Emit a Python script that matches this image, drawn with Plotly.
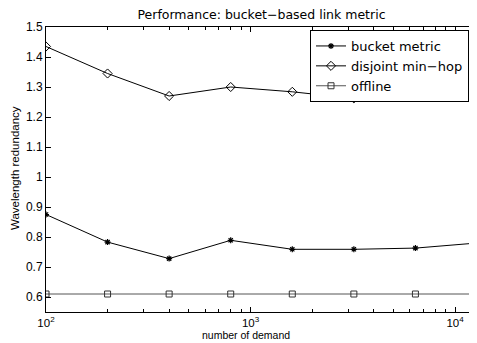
import plotly.graph_objects as go

demand = [100, 200, 400, 800, 1600, 3200, 6400, 12800]
bucket_metric = [0.875, 0.783, 0.728, 0.789, 0.759, 0.759, 0.763, 0.780]
disjoint_min_hop = [1.435, 1.345, 1.270, 1.300, 1.284, 1.262, 1.276, 1.273]
offline = [0.61, 0.61, 0.61, 0.61, 0.61, 0.61, 0.61, 0.61]

y_ticks = [0.6, 0.7, 0.8, 0.9, 1.0, 1.1, 1.2, 1.3, 1.4, 1.5]
y_ticktext = ["0.6", "0.7", "0.8", "0.9", "1", "1.1", "1.2", "1.3", "1.4", "1.5"]
x_ticks = [100, 1000, 10000]
x_ticktext = ["10<sup>2</sup>", "10<sup>3</sup>", "10<sup>4</sup>"]
x_minor = [200, 300, 400, 500, 600, 700, 800, 900,
           2000, 3000, 4000, 5000, 6000, 7000, 8000, 9000]

FONT = "Liberation Sans, Arial, Helvetica, sans-serif"
WIDE = "DejaVu Sans, Liberation Sans, sans-serif"

# The page body has an 8px margin, so the figure is laid out relative to that.
W, H = 469, 335
ML, MR, MT, MB = 38, 0, 19, 31
PW, PH = W - ML - MR, H - MT - MB

fig = go.Figure()
fig.add_trace(go.Scatter(
    x=demand, y=bucket_metric, name="bucket metric", mode="lines+markers",
    line=dict(color="black", width=1),
    marker=dict(symbol="asterisk-open", size=5, color="black", line=dict(width=1.2, color="black")),
))
fig.add_trace(go.Scatter(
    x=demand, y=disjoint_min_hop, name="disjoint min\u2212hop", mode="lines+markers",
    line=dict(color="black", width=1),
    marker=dict(symbol="diamond-open", size=7, color="black", line=dict(width=1, color="black")),
))
fig.add_trace(go.Scatter(
    x=demand, y=offline, name="offline", mode="lines+markers",
    line=dict(color="#555555", width=1),
    marker=dict(symbol="square-open", size=6, color="#333333", line=dict(width=1, color="#333333")),
))

fig.update_layout(
    width=W, height=H,
    margin=dict(l=ML, r=MR, t=MT, b=MB, autoexpand=False),
    paper_bgcolor="white", plot_bgcolor="white",
    font=dict(family=FONT, size=12, color="black"),
    title=dict(text="Performance: bucket\u2212based link metric", x=0.5, xref="paper",
               y=1 - 7 / H, yref="container", xanchor="center", yanchor="middle",
               font=dict(size=12.5, family=WIDE, color="black")),
    showlegend=True,
    legend=dict(x=(461 - ML) / PW, y=(PH - 3) / PH, xanchor="right", yanchor="top",
                bgcolor="white", bordercolor="black", borderwidth=1,
                font=dict(size=13, family=WIDE), itemwidth=30,
                tracegroupgap=0),
    annotations=[
        dict(text="number of demand", xref="paper", yref="paper",
             x=(238 - ML) / PW, y=-(327 - (H - MB)) / PH, xanchor="center", yanchor="middle",
             showarrow=False, font=dict(size=10.5, family=FONT, color="black")),
        dict(text="Wavelength redundancy", xref="paper", yref="paper",
             x=-(ML - 7) / PW, y=(H - MB - 160) / PH, xanchor="center", yanchor="middle",
             textangle=-90, showarrow=False, font=dict(size=11.5, family=FONT, color="black")),
    ],
)
fig.update_xaxes(
    type="log", range=[2, 4.10721], tickmode="array", tickvals=x_ticks, ticktext=x_ticktext,
    ticks="inside", ticklen=5, tickcolor="black", showgrid=False, zeroline=False,
    showline=True, linecolor="black", linewidth=1, mirror="ticks", automargin=False,
    minor=dict(tickmode="array", tickvals=x_minor, ticks="inside", ticklen=3, tickcolor="black", showgrid=False),
    tickfont=dict(size=11.5, family=FONT),
)
fig.update_yaxes(
    range=[0.55, 1.5], tickmode="array", tickvals=y_ticks, ticktext=y_ticktext,
    ticks="inside", ticklen=5, tickcolor="black", showgrid=False, zeroline=False,
    showline=True, linecolor="black", linewidth=1, mirror="ticks", automargin=False,
    tickfont=dict(size=12, family=FONT),
)

fig.write_html("out.html")
